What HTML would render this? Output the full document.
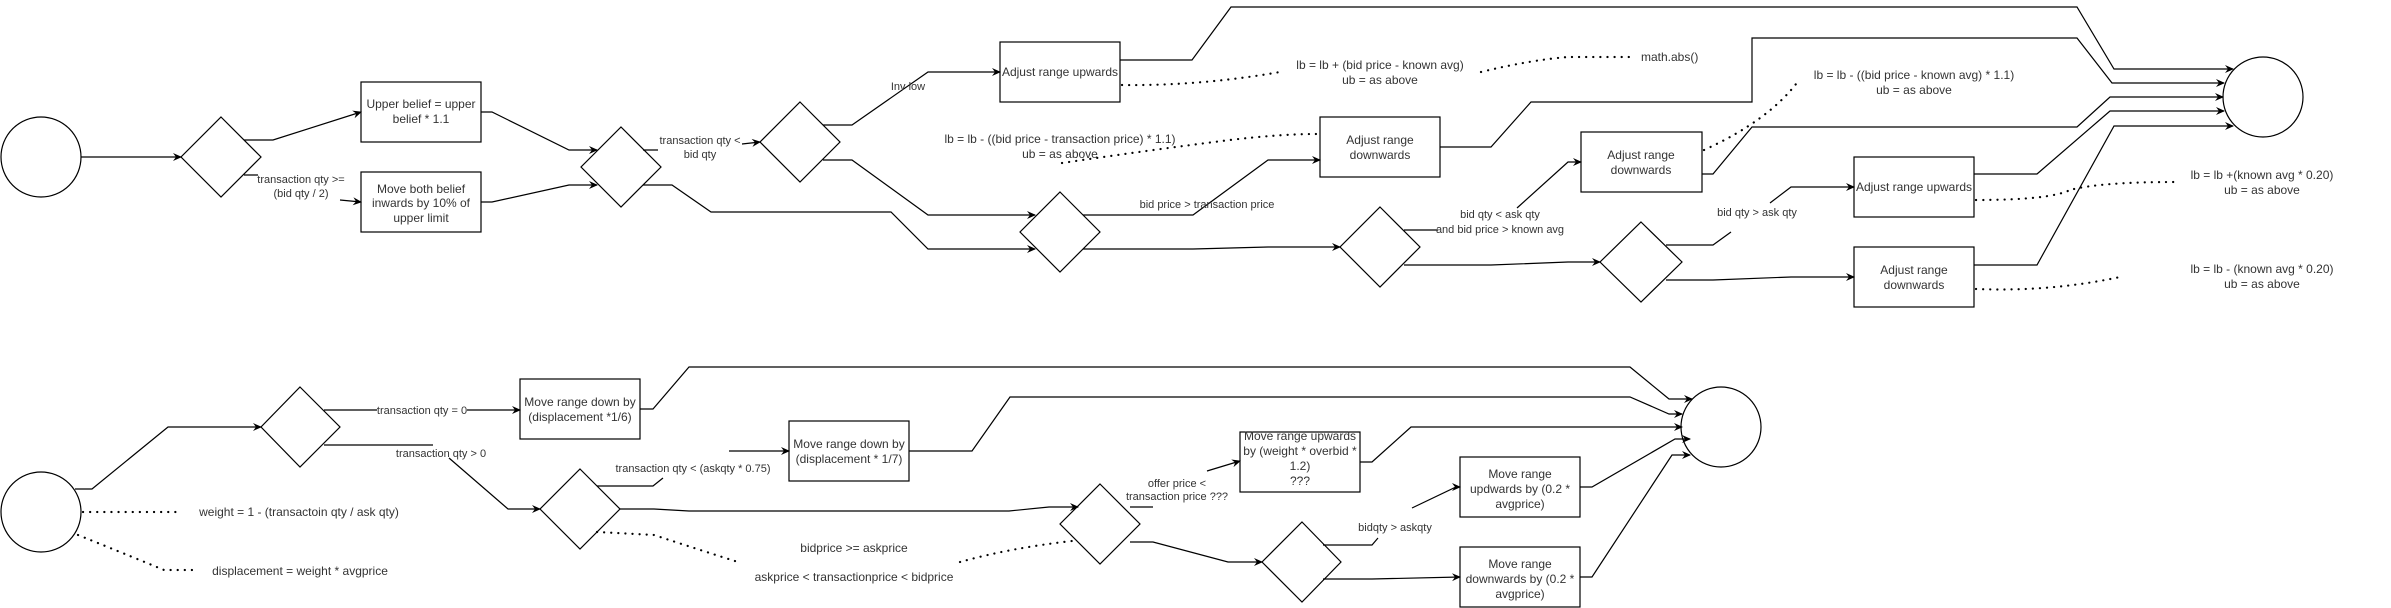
<!DOCTYPE html>
<html><head><meta charset="utf-8"><style>
html,body{margin:0;padding:0;background:#fff;}
svg{display:block;}
text{font-family:"Liberation Sans",Arial,sans-serif;fill:#333;}
.b{font-size:12px;}
.e{font-size:11px;}
.a{font-size:12px;}
</style></head><body>
<svg width="2391" height="608" viewBox="0 0 2391 608" xmlns="http://www.w3.org/2000/svg">
<defs>
<marker id="m" markerWidth="10" markerHeight="10" refX="8" refY="5" orient="auto" markerUnits="userSpaceOnUse">
<path d="M0,1 L9,5 L0,9 L3,5 Z" fill="#000"/>
</marker>
</defs>
<g fill="none" stroke="#000" stroke-width="1.2">
<ellipse cx="41" cy="157" rx="40" ry="40" fill="#fff"/>
<polygon points="221,117 261,157 221,197 181,157" fill="#fff"/>
<rect x="361" y="82" width="120" height="60" fill="#fff"/>
<rect x="361" y="172" width="120" height="60" fill="#fff"/>
<polygon points="621,127 661,167 621,207 581,167" fill="#fff"/>
<polygon points="800,102 840,142 800,182 760,142" fill="#fff"/>
<rect x="1000" y="42" width="120" height="60" fill="#fff"/>
<polygon points="1060,192 1100,232 1060,272 1020,232" fill="#fff"/>
<rect x="1320" y="117" width="120" height="60" fill="#fff"/>
<polygon points="1380,207 1420,247 1380,287 1340,247" fill="#fff"/>
<rect x="1581" y="132" width="121" height="60" fill="#fff"/>
<polygon points="1641,222 1682,262 1641,302 1600,262" fill="#fff"/>
<rect x="1854" y="157" width="120" height="60" fill="#fff"/>
<rect x="1854" y="247" width="120" height="60" fill="#fff"/>
<ellipse cx="2263" cy="97" rx="40" ry="40" fill="#fff"/>

<path d="M81,157 L181,157" marker-end="url(#m)"/>
<path d="M244,140 L273,140 L361,112" marker-end="url(#m)"/>
<path d="M244,175 L258,175 M340,200 L361,202" marker-end="url(#m)"/>
<path d="M481,112 L492,112 L569,150 L597,150" marker-end="url(#m)"/>
<path d="M481,202 L492,202 L569,185 L597,185" marker-end="url(#m)"/>
<path d="M643,150 L658,150 M742,144 L760,142" marker-end="url(#m)"/>
<path d="M643,185 L672,185 L711,212 L891,212 L928,249 L1035,249" marker-end="url(#m)"/>
<path d="M823,125 L852,125 L928,72 L1000,72" marker-end="url(#m)"/>
<path d="M823,160 L852,160 L928,215 L1035,215" marker-end="url(#m)"/>
<path d="M1083,215 L1193,215 L1268,160 L1320,160" marker-end="url(#m)"/>
<path d="M1083,249 L1193,249 L1268,247 L1340,247" marker-end="url(#m)"/>
<path d="M1404,230 L1438,230 M1517,208 L1568,162 L1581,162" marker-end="url(#m)"/>
<path d="M1404,265 L1491,265 L1568,262 L1600,262" marker-end="url(#m)"/>
<path d="M1666,245 L1713,245 L1731,232 M1770,203 L1791,187 L1854,187" marker-end="url(#m)"/>
<path d="M1666,280 L1713,280 L1791,277 L1854,277" marker-end="url(#m)"/>
<path d="M1120,60 L1192,60 L1231,7 L2077,7 L2114,69 L2233,69" marker-end="url(#m)"/>
<path d="M1440,147 L1491,147 L1531,102 L1752,102 L1752,38 L2077,38 L2112,83 L2224,83" marker-end="url(#m)"/>
<path d="M1702,174 L1713,174 L1752,127 L2077,127 L2110,97 L2223,97" marker-end="url(#m)"/>
<path d="M1974,174 L2037,174 L2110,111 L2224,111" marker-end="url(#m)"/>
<path d="M1974,265 L2037,265 L2114,126 L2233,126" marker-end="url(#m)"/>

<ellipse cx="41" cy="512" rx="40" ry="40" fill="#fff"/>
<polygon points="300,387 340,427 300,467 261,427" fill="#fff"/>
<rect x="520" y="379" width="120" height="60" fill="#fff"/>
<polygon points="580,469 620,509 580,549 540,509" fill="#fff"/>
<rect x="789" y="421" width="120" height="60" fill="#fff"/>
<polygon points="1100,484 1140,524 1100,564 1060,524" fill="#fff"/>
<rect x="1240" y="432" width="120" height="60" fill="#fff"/>
<polygon points="1302,522 1341,562 1302,602 1262,562" fill="#fff"/>
<rect x="1460" y="457" width="120" height="60" fill="#fff"/>
<rect x="1460" y="547" width="120" height="60" fill="#fff"/>
<ellipse cx="1721" cy="427" rx="40" ry="40" fill="#fff"/>

<path d="M75,489 L92,489 L168,427 L261,427" marker-end="url(#m)"/>
<path d="M324,410 L377,410 M467,410 L520,410" marker-end="url(#m)"/>
<path d="M324,445 L433,445 M449,458 L508,509 L540,509" marker-end="url(#m)"/>
<path d="M597,486 L653,486 L663,478 M729,451 L789,451" marker-end="url(#m)"/>
<path d="M620,509 L654,509 L689,511 L1009,511 L1049,507 L1078,507" marker-end="url(#m)"/>
<path d="M640,409 L653,409 L689,367 L1630,367 L1669,399 L1692,399" marker-end="url(#m)"/>
<path d="M909,451 L972,451 L1010,397 L1630,397 L1669,414 L1682,414" marker-end="url(#m)"/>
<path d="M1130,507 L1153,507 M1207,471 L1240,461" marker-end="url(#m)"/>
<path d="M1360,462 L1372,462 L1411,427 L1682,427" marker-end="url(#m)"/>
<path d="M1130,542 L1153,542 L1228,562 L1262,562" marker-end="url(#m)"/>
<path d="M1323,545 L1372,545 L1378,538 M1412,508 L1456,487 L1460,487" marker-end="url(#m)"/>
<path d="M1323,579 L1372,579 L1460,577" marker-end="url(#m)"/>
<path d="M1580,487 L1592,487 L1675,439 L1690,439" marker-end="url(#m)"/>
<path d="M1580,577 L1592,577 L1672,455 L1690,455" marker-end="url(#m)"/>
</g>

<g fill="none" stroke="#000" stroke-width="2.2" stroke-dasharray="0.1,7" stroke-linecap="round">
<path d="M1122,85 Q1200,86 1280,72"/>
<path d="M1481,72 Q1530,60 1568,57 L1630,57"/>
<path d="M1062,163 Q1150,150 1230,140 Q1280,134 1318,134"/>
<path d="M1704,150 Q1770,120 1799,80"/>
<path d="M1976,200 Q2050,200 2070,190 Q2100,182 2177,182"/>
<path d="M1976,289 Q2050,292 2120,277"/>
<path d="M83,512 L178,512"/>
<path d="M78,535 Q140,560 164,570 L195,570"/>
<path d="M597,532 L654,535 Q700,550 738,562"/>
<path d="M960,562 Q1010,548 1072,541"/>
</g>

<g class="b" text-anchor="middle">
<text x="421" y="108">Upper belief = upper</text><text x="421" y="123">belief * 1.1</text>
<text x="421" y="193">Move both belief</text><text x="421" y="207">inwards by 10% of</text><text x="421" y="222">upper limit</text>
<text x="1060" y="76">Adjust range upwards</text>
<text x="1380" y="144">Adjust range</text><text x="1380" y="159">downwards</text>
<text x="1641" y="159">Adjust range</text><text x="1641" y="174">downwards</text>
<text x="1914" y="191">Adjust range upwards</text>
<text x="1914" y="274">Adjust range</text><text x="1914" y="289">downwards</text>
<text x="580" y="406">Move range down by</text><text x="580" y="421">(displacement *1/6)</text>
<text x="849" y="448">Move range down by</text><text x="849" y="463">(displacement * 1/7)</text>
<text x="1300" y="440">Move range upwards</text><text x="1300" y="455">by (weight * overbid *</text><text x="1300" y="470">1.2)</text><text x="1300" y="485">???</text>
<text x="1520" y="478">Move range</text><text x="1520" y="493">updwards by (0.2 *</text><text x="1520" y="508">avgprice)</text>
<text x="1520" y="568">Move range</text><text x="1520" y="583">downwards by (0.2 *</text><text x="1520" y="598">avgprice)</text>
</g>

<g class="e" text-anchor="middle">
<text x="301" y="183">transaction qty &gt;=</text><text x="301" y="197">(bid qty / 2)</text>
<text x="700" y="144">transaction qty &lt;</text><text x="700" y="158">bid qty</text>
<text x="908" y="90">Inv low</text>
<text x="1207" y="208">bid price &gt; transaction price</text>
<text x="1500" y="218">bid qty &lt; ask qty</text><text x="1500" y="233">and bid price &gt; known avg</text>
<text x="1757" y="216">bid qty &gt; ask qty</text>
<text x="422" y="414">transaction qty = 0</text>
<text x="441" y="457">transaction qty &gt; 0</text>
<text x="693" y="472">transaction qty &lt; (askqty * 0.75)</text>
<text x="1177" y="487">offer price &lt;</text><text x="1177" y="500">transaction price ???</text>
<text x="1395" y="531">bidqty &gt; askqty</text>
</g>

<g class="a" text-anchor="middle">
<text x="1380" y="69">lb = lb + (bid price - known avg)</text><text x="1380" y="84">ub = as above</text>
<text x="1641" y="61" text-anchor="start">math.abs()</text>
<text x="1060" y="143">lb = lb - ((bid price - transaction price) * 1.1)</text><text x="1060" y="158">ub = as above</text>
<text x="1914" y="79">lb = lb - ((bid price - known avg) * 1.1)</text><text x="1914" y="94">ub = as above</text>
<text x="2262" y="179">lb = lb +(known avg * 0.20)</text><text x="2262" y="194">ub = as above</text>
<text x="2262" y="273">lb = lb - (known avg * 0.20)</text><text x="2262" y="288">ub = as above</text>
<text x="299" y="516">weight = 1 - (transactoin qty / ask qty)</text>
<text x="300" y="575">displacement = weight * avgprice</text>
<text x="854" y="552">bidprice &gt;= askprice</text>
<text x="854" y="581">askprice &lt; transactionprice &lt; bidprice</text>
</g>
</svg>
</body></html>
